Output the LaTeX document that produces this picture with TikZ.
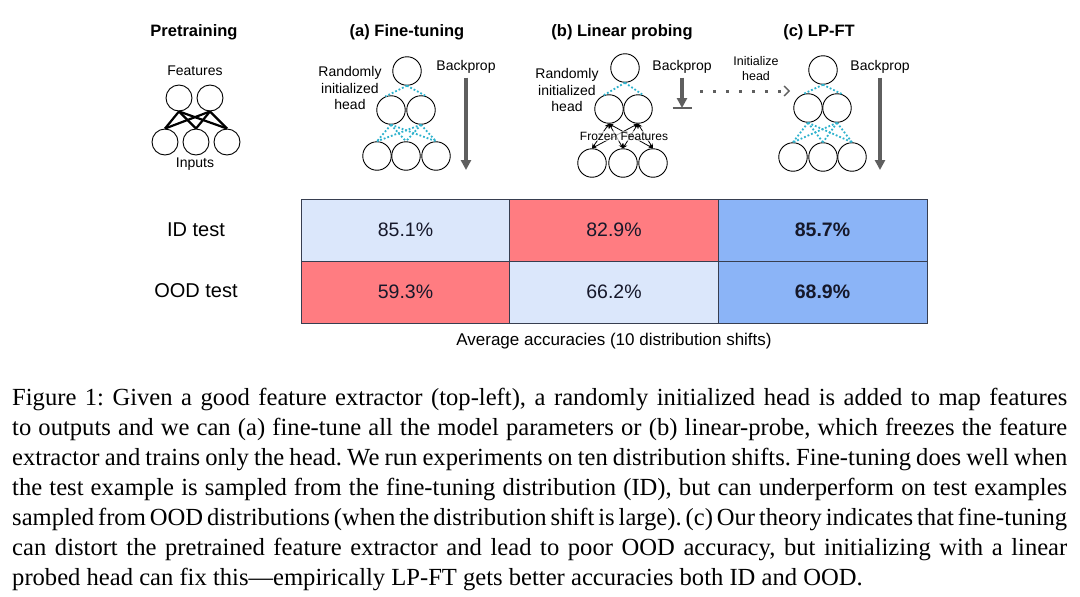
\documentclass[tikz,border=0pt]{standalone}
\usepackage{fontspec}
\setmainfont{Liberation Serif}
\setsansfont{Liberation Sans}
\usetikzlibrary{positioning, arrows.meta, calc}
\definecolor{accRed}{RGB}{255,124,129}
\definecolor{accLight}{RGB}{219,231,251}
\definecolor{accBlue}{RGB}{139,180,247}
\definecolor{headCyan}{RGB}{45,178,205}
\definecolor{propGray}{RGB}{95,95,95}
\definecolor{cellLine}{RGB}{55,62,80}
\definecolor{cellText}{RGB}{22,24,42}
\newcommand{\capline}[1]{\hbox to 1055pt{\frenchspacing\spaceskip=0.25em plus 0.3em minus 0.1em\relax #1}}

\begin{document}
\begin{tikzpicture}[x=1pt, y=-1pt,
  unit/.style={circle, draw, line width=0.9pt, inner sep=0pt, minimum size=28.5pt},
  small unit/.style={unit, minimum size=26pt},
  lbl/.style={font=\sffamily\fontsize{14}{16.5}\selectfont, align=center, inner sep=0pt},
  ttl/.style={font=\sffamily\bfseries\fontsize{16.5}{20}\selectfont, inner sep=0pt},
  headlink/.style={headCyan, line width=1.8pt, dotted},
  prop/.style={propGray, line width=3.2pt, -{Triangle[length=10pt, width=10pt]}},
  frozen/.style={{Stealth[length=4.5pt, width=4.5pt]}-{Stealth[length=4.5pt, width=4.5pt]}, line width=0.8pt},
  cell/.style={draw=cellLine, line width=0.9pt, minimum width=209pt, minimum height=62pt, inner sep=0pt,
    text=cellText, font=\sffamily\fontsize{19.5}{22}\selectfont},
  best/.style={cell, font=\sffamily\bfseries\fontsize{19.5}{22}\selectfont}]
        \fill[white] (0,0) rectangle (1080,597);
        % Pretraining
        \node[ttl] (preTitle) at (194,32) {Pretraining};
        \node[lbl] (preFeat) at (195,71) {Features};
        \node[small unit] (preF1) at (179,98) {};
        \node[small unit] (preF2) at (210,98) {};
        \node[small unit] (preI1) at (165,142) {};
        \node[small unit] (preI2) at (196,142) {};
        \node[small unit] (preI3) at (227,142) {};
        \node[lbl] (preIn) at (195,164) {Inputs};
        \foreach \f in {1,2}
          \foreach \i in {1,2,3}
            \draw[line width=2.2pt] (preF\f.south) -- (preI\i.north);
        % (a) Fine-tuning
        \node[ttl] (ftTitle) at (407,32) {(a) Fine-tuning};
        \node[unit] (ftHead) at (407,71) {};
        \node[unit] (ftM1) at (391,110) {};
        \node[unit] (ftM2) at (421,110) {};
        \node[unit] (ftB1) at (377,156) {};
        \node[unit] (ftB2) at (406,156) {};
        \node[unit] (ftB3) at (436,156) {};
        \node[lbl] (ftRand) at (350,88) {Randomly\\initialized\\head};
        \node[lbl] (ftBp) at (466,67) {Backprop};
        \coordinate (ftBpEnd) at (466,170);
        \draw[prop] ([yshift=-4pt]ftBp.south) -- (ftBpEnd);
        \draw[headlink] (ftHead.south) -- (ftM1.112);
        \draw[headlink] (ftHead.south) -- (ftM2.68);
        \foreach \m in {1,2}
          \foreach \b in {1,2,3}
            \draw[headlink] (ftM\m.south) -- (ftB\b.north);
        % (b) Linear probing
        \node[ttl] (lpTitle) at (622,32) {(b) Linear probing};
        \node[unit] (lpHead) at (625,68) {};
        \node[unit] (lpM1) at (609,109) {};
        \node[unit] (lpM2) at (638,109) {};
        \node[unit] (lpB1) at (592,163) {};
        \node[unit] (lpB2) at (623,163) {};
        \node[unit] (lpB3) at (653,163) {};
        \node[lbl] (lpRand) at (567,90) {Randomly\\initialized\\head};
        \draw[headlink] (lpHead.south) -- (lpM1.112);
        \draw[headlink] (lpHead.south) -- (lpM2.68);
        \foreach \m in {1,2}
          \foreach \b in {1,2,3}
            \draw[frozen] (lpM\m.south) -- (lpB\b.north);
        \node[lbl, font=\sffamily\fontsize{12}{14}\selectfont, fill=white, fill opacity=0.65, text opacity=1,
          inner sep=1pt] (lpFrozen) at (624,136) {Frozen Features};
        \node[lbl] (lpBp) at (682,67) {Backprop};
        \coordinate (lpStop) at (682,108);
        \draw[prop] ([yshift=-4pt]lpBp.south) -- (lpStop);
        \draw[propGray, line width=2.6pt] ([xshift=-9.5pt]lpStop) -- ([xshift=9.5pt]lpStop);
        % head handed over to LP-FT
        \node[lbl, font=\sffamily\fontsize{12.5}{15}\selectfont] (lpInit) at (756,69) {Initialize\\head};
        \coordinate (initFrom) at (700,91);
        \coordinate (initTo) at (790,91);
        \draw[propGray, line width=3pt, dash pattern=on 3pt off 10pt,
          -{Straight Barb[length=5pt, width=10pt, line width=1.3pt]}] (initFrom) -- (initTo);
        % (c) LP-FT
        \node[ttl] (lpftTitle) at (819,32) {(c) LP-FT};
        \node[unit] (lpftHead) at (823,70) {};
        \node[unit] (lpftM1) at (808,108) {};
        \node[unit] (lpftM2) at (837,108) {};
        \node[unit] (lpftB1) at (793,157) {};
        \node[unit] (lpftB2) at (823,157) {};
        \node[unit] (lpftB3) at (852,157) {};
        \node[lbl] (lpftBp) at (880,67) {Backprop};
        \coordinate (lpftBpEnd) at (880,170);
        \draw[prop] ([yshift=-4pt]lpftBp.south) -- (lpftBpEnd);
        \draw[headlink] (lpftHead.south) -- (lpftM1.112);
        \draw[headlink] (lpftHead.south) -- (lpftM2.68);
        \foreach \m in {1,2}
          \foreach \b in {1,2,3}
            \draw[headlink] (lpftM\m.south) -- (lpftB\b.north);
        % Accuracy table
        \node[lbl, font=\sffamily\fontsize{20}{22}\selectfont] (rowId) at (196,230) {ID test};
        \node[lbl, font=\sffamily\fontsize{20}{22}\selectfont] (rowOod) at (196,291) {OOD test};
        \node[cell, fill=accLight] (idFt) at (405.5,230) {85.1\%};
        \node[cell, fill=accRed] (idLp) at (614,230) {82.9\%};
        \node[best, fill=accBlue] (idLpft) at (822.5,230) {85.7\%};
        \node[cell, fill=accRed] (oodFt) at (405.5,292) {59.3\%};
        \node[cell, fill=accLight] (oodLp) at (614,292) {66.2\%};
        \node[best, fill=accBlue] (oodLpft) at (822.5,292) {68.9\%};
        \node[lbl, font=\sffamily\fontsize{17}{20}\selectfont] (avgNote) at (614,341) {Average accuracies (10 distribution shifts)};
        % Caption
        \node[anchor=north west, inner sep=0pt, align=left,
          font=\fontsize{24.6}{30}\selectfont] (caption) at (12,388) {%
          \capline{Figure 1: Given a good feature extractor (top-left), a randomly initialized head is added to map features}\\
          \capline{to outputs and we can (a) fine-tune all the model parameters or (b) linear-probe, which freezes the feature}\\
          \capline{extractor and trains only the head. We run experiments on ten distribution shifts. Fine-tuning does well when}\\
          \capline{the test example is sampled from the fine-tuning distribution (ID), but can underperform on test examples}\\
          \capline{sampled from OOD distributions (when the distribution shift is large). (c) Our theory indicates that fine-tuning}\\
          \capline{can distort the pretrained feature extractor and lead to poor OOD accuracy, but initializing with a linear}\\
          probed head can fix this---empirically LP-FT gets better accuracies both ID and OOD.};
\end{tikzpicture}
\end{document}
